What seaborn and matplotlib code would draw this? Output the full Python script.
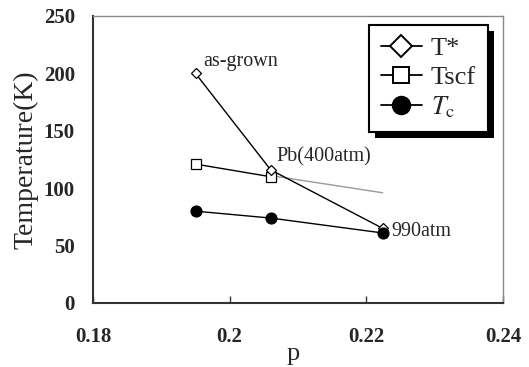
import matplotlib
matplotlib.use("Agg")
import matplotlib.pyplot as plt
import seaborn as sns
import pandas as pd
from matplotlib.lines import Line2D
from matplotlib.patches import Rectangle

# data
p_vals = [0.195, 0.206, 0.2224]
t_star = [200, 116, 65]
t_scf = [121, 110]
t_c = [80, 74, 61]
fit_p = [0.206, 0.2224]
fit_t = [111, 96]
ann_text = ["as-grown", "Pb(400atm)", "990atm"]

sns.set_theme(style="white")
plt.rcParams['font.family'] = ['Liberation Serif', 'DejaVu Serif']
plt.rcParams['mathtext.fontset'] = 'stix'

fig = plt.figure(figsize=(5.29, 3.67), dpi=100)
ax = fig.add_axes([93/529, 1-303/367, 410/529, 287/367])

df_star = pd.DataFrame({"p": p_vals, "T": t_star})
df_scf = pd.DataFrame({"p": p_vals[:2], "T": t_scf})
df_c = pd.DataFrame({"p": p_vals, "T": t_c})
df_fit = pd.DataFrame({"p": fit_p, "T": fit_t})

sns.lineplot(data=df_fit, x="p", y="T", ax=ax, color="#999999", lw=1.0, zorder=1)
sns.lineplot(data=df_c, x="p", y="T", ax=ax, color="black", lw=1.0, marker="o",
             markersize=8, markerfacecolor="black", markeredgecolor="black", zorder=3)
sns.lineplot(data=df_scf, x="p", y="T", ax=ax, color="black", lw=1.0, marker="s",
             markersize=7, markerfacecolor="white", markeredgecolor="black",
             markeredgewidth=0.9, zorder=2)
sns.lineplot(data=df_star, x="p", y="T", ax=ax, color="black", lw=1.0, marker="D",
             markersize=5.5, markerfacecolor="white", markeredgecolor="black",
             markeredgewidth=0.9, zorder=2)

ax.set_xlim(0.18, 0.24)
ax.set_ylim(0, 250)
ax.set_xticks([0.18, 0.2, 0.22, 0.24])
ax.set_xticklabels(["0.18", "0.2", "0.22", "0.24"])
ax.set_yticks([0, 50, 100, 150, 200, 250])
for lab in ax.get_xticklabels() + ax.get_yticklabels():
    lab.set_fontweight("bold")
    lab.set_fontsize(15)
ax.tick_params(axis="x", direction="in", length=5, width=1, color="#333333", pad=17, bottom=True)
ax.tick_params(axis="y", length=0, pad=13, left=True)

ax.set_xlabel("p", fontsize=19)
ax.xaxis.label.set_va("baseline")
ax.xaxis.set_label_coords((293 - 93) / 410, -(360 - 303) / 287)
ax.set_ylabel("Temperature(K)", fontsize=20, labelpad=4)

for s in ["left", "bottom"]:
    ax.spines[s].set_color("#333333")
    ax.spines[s].set_linewidth(1.5)
for s in ["top", "right"]:
    ax.spines[s].set_color("#888888")
    ax.spines[s].set_linewidth(1.0)

ax.text(0.1962, 202, ann_text[0], fontsize=14.5, ha="left", va="bottom")
ax.text(0.2068, 118.5, ann_text[1], fontsize=14.5, ha="left", va="bottom")
ax.text(0.2237, 62, ann_text[2], fontsize=14.5, ha="left", va="center")

handles = [
    Line2D([], [], color="black", lw=1.3, marker="D", markersize=11.5,
           markerfacecolor="white", markeredgecolor="black", markeredgewidth=1.4),
    Line2D([], [], color="black", lw=1.3, marker="s", markersize=11,
           markerfacecolor="white", markeredgecolor="black", markeredgewidth=1.4),
    Line2D([], [], color="black", lw=1.3, marker="o", markersize=13,
           markerfacecolor="black", markeredgecolor="black"),
]
labels = ["T*", "Tscf", r"$T_{\mathrm{c}}$"]
leg = ax.legend(handles, labels, loc="upper right", bbox_to_anchor=(0.963, 0.969),
                frameon=True, fancybox=False, fontsize=19, handlelength=1.55,
                handletextpad=0.35, borderpad=0.45, labelspacing=0.2,
                borderaxespad=0)
leg.get_frame().set_edgecolor("black")
leg.get_frame().set_linewidth(1.5)
leg.get_frame().set_alpha(1)
leg.set_zorder(10)

fig.canvas.draw()
bb = leg.get_window_extent()
off = 6
shadow = Rectangle((bb.x0 + off, bb.y0 - off), bb.width, bb.height,
                   transform=None, facecolor="black", edgecolor="none", zorder=9)
ax.add_artist(shadow)
shadow.set_clip_on(False)

fig.savefig("out.png", dpi=100)
